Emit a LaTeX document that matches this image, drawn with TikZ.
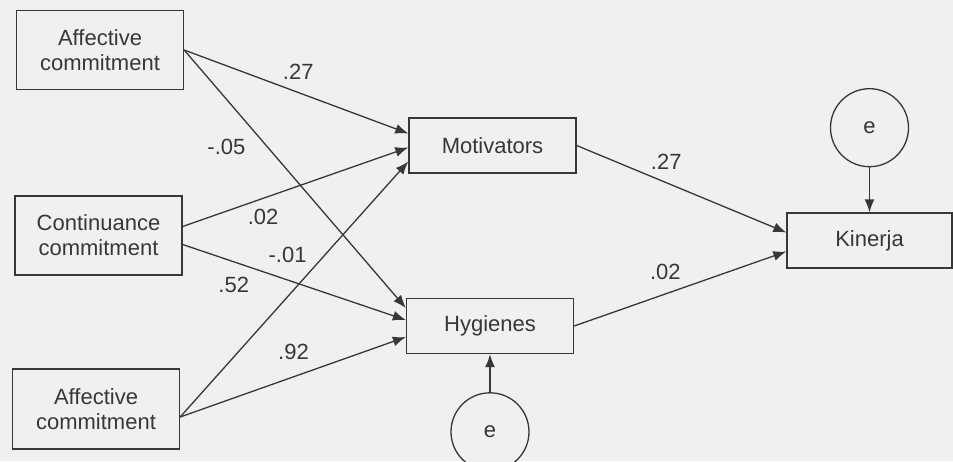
\documentclass[tikz,border=0pt]{standalone}
\usepackage{fontspec}
\setmainfont{Liberation Sans}
\usetikzlibrary{arrows.meta}
\usetikzlibrary{calc}
\usetikzlibrary{positioning}
\definecolor{paper}{RGB}{239,241,238}
\definecolor{ink}{RGB}{55,55,55}

\begin{document}
\begin{tikzpicture}[x=0.5pt,y=-0.5pt,
                    >={Latex[length=6.5pt,width=5pt]},
                    line width=0.65pt,
                    color=ink,
                    font=\fontsize{11}{12.5}\selectfont,
                    var/.style={rectangle,draw,fill=paper,minimum width=83.5pt,minimum height=27.5pt,align=center},
                    err/.style={circle,draw,fill=paper,minimum size=39pt,inner sep=0pt},
                    coef/.style={inner sep=0pt,anchor=center}
                    ]
  \path[use as bounding box,clip] (0,0) rectangle (953,461);
  \fill[paper] (0,0) rectangle (953,461);
  \node[var,minimum height=39.5pt] (aff1) at (100,50) {Affective\\commitment};
  \node[var,minimum height=39.5pt] (cont) at (98.5,235.5) {Continuance\\commitment};
  \node[var,minimum height=40pt] (aff2) at (96,409) {Affective\\commitment};
  \node[var] (mot) at (492.5,145.5) {Motivators};
  \node[var] (hyg) at (490,326) {Hygienes};
  \node[var,minimum width=82.5pt] (kin) at (869.5,240.5) {Kinerja};
  \node[err] (e1) [above=22.5pt of kin] {e};
  \node[err] (e2) [below=19pt of hyg] {e};
  % paths into the two factors
  \draw[->] (aff1.east) -- ($(mot.west)+(0,-12)$) node[coef,pos=.5,shift={(2,-19.5)}] {.27};
  \draw[->] (aff1.east) -- ($(hyg.west)+(0,-18)$) node[coef,pos=.38,shift={(-42,-1)}] {-.05};
  \draw[->] ($(cont.east)+(0,-9)$) -- ($(mot.west)+(0,2)$) node[coef,pos=.35,shift={(1.5,18)}] {.02};
  \draw[->] ($(cont.east)+(0,9)$) -- ($(hyg.west)+(0,-6)$) node[coef,pos=.47,shift={(0,-25)}] {-.01};
  \draw[->] ($(aff2.east)+(0,8)$) -- ($(mot.west)+(0,16)$) node[coef,pos=.5,shift={(-60.5,-4)}] {.52};
  \draw[->] ($(aff2.east)+(0,8)$) -- ($(hyg.west)+(0,11)$) node[coef,pos=.5,shift={(0.5,-25)}] {.92};
  % paths into kinerja
  \draw[->] (mot.east) -- ($(kin.west)+(0,-8)$) node[coef,pos=.427,shift={(0,-21)}] {.27};
  \draw[->] (hyg.east) -- ($(kin.west)+(0,11)$) node[coef,pos=.43,shift={(0,-22)}] {.02};
  \draw[->] (e1) -- (kin);
  \draw[->] (e2) -- (hyg);
\end{tikzpicture}
\end{document}
